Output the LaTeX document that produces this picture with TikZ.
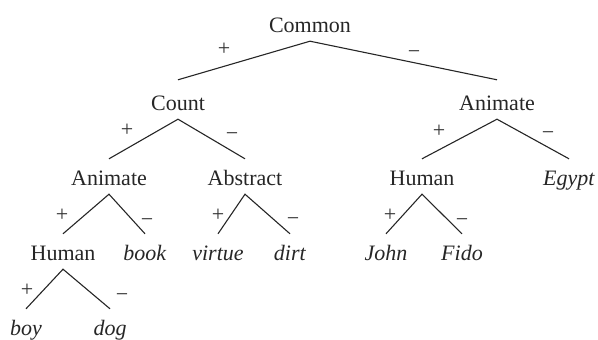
\documentclass[tikz,border=0pt]{standalone}
\usepackage{fontspec}
\setmainfont{Liberation Serif}
\usetikzlibrary{positioning}

\begin{document}
\begin{tikzpicture}[
                x = 1pt, y = -1pt,
                word/.style = {
                    inner xsep  = 0pt,
                    inner ysep  = 3.5pt,
                    text height = 23pt,
                    text depth  = 5pt,
                    anchor      = base,
                    text        = black!85,
                    font        = \fontsize{22pt}{26pt}\selectfont
                },
                upper/.style = {word, text height = 27pt},
                sign/.style = {
                    inner sep = 0pt,
                    text      = black!80,
                    font      = \fontsize{22pt}{26pt}\selectfont
                },
                branch/.style = {draw = black!85, line width = 1.1pt}
            ]

                \useasboundingbox (0, 0) rectangle (598, 340);

                % labels of the tree
                \node[word]  (common)   at (310, 32.5)  {Common};
                \node[upper] (count)    at (178, 110.5) {Count};
                \node[upper] (animateR) at (497, 110.5) {Animate};
                \node[word]  (animateL) at (109, 185.5) {Animate};
                \node[word]  (abstract) at (245, 185.5) {Abstract};
                \node[word]  (humanR)   at (422, 185.5) {Human};
                \node[word]  (egypt)    at (569, 185.5) {\textit{Egypt}};
                \node[word]  (humanL)   at (63, 260.5)  {Human};
                \node[word]  (book)     at (145, 260.5) {\textit{book}};
                \node[word]  (virtue)   at (218, 260.5) {\textit{virtue}};
                \node[word]  (dirt)     at (290, 260.5) {\textit{dirt}};
                \node[word]  (john)     at (386, 260.5) {\textit{John}};
                \node[word]  (fido)     at (462, 260.5) {\textit{Fido}};
                \node[word]  (boy)      at (26, 335.5)  {\textit{boy}};
                \node[word]  (dog)      at (110, 335.5) {\textit{dog}};

                % branches
                \draw[branch] (count.north) -- (common.south) -- (animateR.north);
                \draw[branch] (animateL.north) -- (count.south) -- (abstract.north);
                \draw[branch] (humanR.north) -- (animateR.south) -- (egypt.north);
                \draw[branch] (humanL.north) -- (animateL.south) -- (book.north);
                \draw[branch] (virtue.north) -- (abstract.south) -- (dirt.north);
                \draw[branch] (john.north) -- (humanR.south) -- (fido.north);
                \draw[branch] (boy.north) -- (humanL.south) -- (dog.north);

                % signs on the branches
                \node[sign] (commonP)   at (224, 49)  {+};
                \node[sign] (commonM)   at (414, 55)  {−};
                \node[sign] (countP)    at (127, 130) {+};
                \node[sign] (countM)    at (232, 137) {−};
                \node[sign] (animateRP) at (439, 131) {+};
                \node[sign] (animateRM) at (548, 136) {−};
                \node[sign] (animateLP) at (62, 215)  {+};
                \node[sign] (animateLM) at (147, 223) {−};
                \node[sign] (abstractP) at (218, 215) {+};
                \node[sign] (abstractM) at (293, 222) {−};
                \node[sign] (humanRP)   at (390, 215) {+};
                \node[sign] (humanRM)   at (462, 223) {−};
                \node[sign] (humanLP)   at (27, 290)  {+};
                \node[sign] (humanLM)   at (122, 298) {−};
            \end{tikzpicture}
\end{document}
